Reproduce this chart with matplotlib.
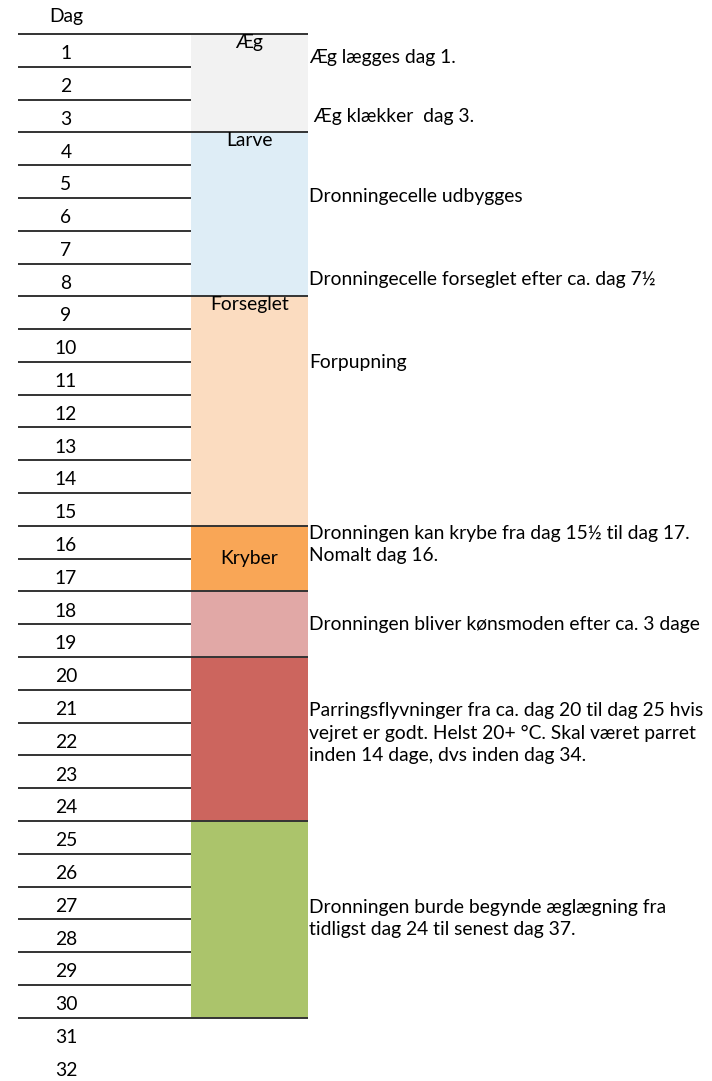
import matplotlib.pyplot as plt

# dage i tabellen
days = list(range(1, 33))
last_row = 30

# faser: navn, første dag, sidste dag, farve
phase_names = ["Æg", "Larve", "Forseglet", "Kryber", "", "", ""]
phase_first = [1, 4, 9, 16, 18, 20, 25]
phase_last = [3, 8, 15, 17, 19, 24, 30]
phase_colors = ["#f2f2f2", "#deedf6", "#fbdcc0", "#f9a656",
                "#e1a8a6", "#cc655e", "#abc46b"]
label_at_top = [True, True, True, False, False, False, False]

# noter til højre (dag-position for tekstens midte)
notes = [
    "Æg lægges dag 1.",
    " Æg klækker  dag 3.",
    "Dronningecelle udbygges",
    "Dronningecelle forseglet efter ca. dag 7½",
    "Forpupning",
    "Dronningen kan krybe fra dag 15½ til dag 17.\nNomalt dag 16.",
    "Dronningen bliver kønsmoden efter ca. 3 dage",
    "Parringsflyvninger fra ca. dag 20 til dag 25 hvis\nvejret er godt. Helst 20+ °C. Skal været parret\ninden 14 dage, dvs inden dag 34.",
    "Dronningen burde begynde æglægning fra\ntidligst dag 24 til senest dag 37.",
]
note_pos = [0.73, 2.53, 4.97, 7.5, 10.03, 15.57, 18.02, 21.32, 26.97]

plt.rcParams['font.family'] = ['Lato', 'DejaVu Sans']
FS = 13.9

fig = plt.figure(figsize=(7.12, 10.81), dpi=100)
ax = fig.add_axes([0, 0, 1, 1])
row_px = 32.79
top_px = 34
ax.set_xlim(0, 712)
ax.set_ylim((1081 - top_px) / row_px, -top_px / row_px)
ax.axis('off')

x_left, x_mid, x_right = 18, 191, 308

# fasefelter
for name, a, b, c, top in zip(phase_names, phase_first, phase_last, phase_colors, label_at_top):
    ax.barh((a - 1 + b) / 2, x_right - x_mid, left=x_mid, height=b - a + 1,
            color=c, edgecolor='none', zorder=1)
    if name:
        if top:
            ax.text((x_mid + x_right) / 2, a - 1 + 0.0, name, ha='center', va='top',
                    fontsize=FS, zorder=3)
        else:
            ax.text((x_mid + x_right) / 2, (a - 1 + b) / 2, name, ha='center',
                    va='center', fontsize=FS, zorder=3)

# linjer
bounds = [0] + phase_last
for d in range(0, last_row + 1):
    xe = x_right if d in bounds else x_mid
    ax.hlines(d, x_left, xe, color='#333333', lw=1.4, zorder=2)

# dagnumre
ax.text(66, -0.52, "Dag", ha='center', va='center', fontsize=FS)
for d in days:
    ax.text(66, d - 0.5 + 0.1, str(d), ha='center', va='center', fontsize=FS)

for t, p in zip(notes, note_pos):
    ax.text(309, p, t, ha='left', va='center', fontsize=FS, linespacing=1.4)

fig.savefig("out.png", dpi=100)
